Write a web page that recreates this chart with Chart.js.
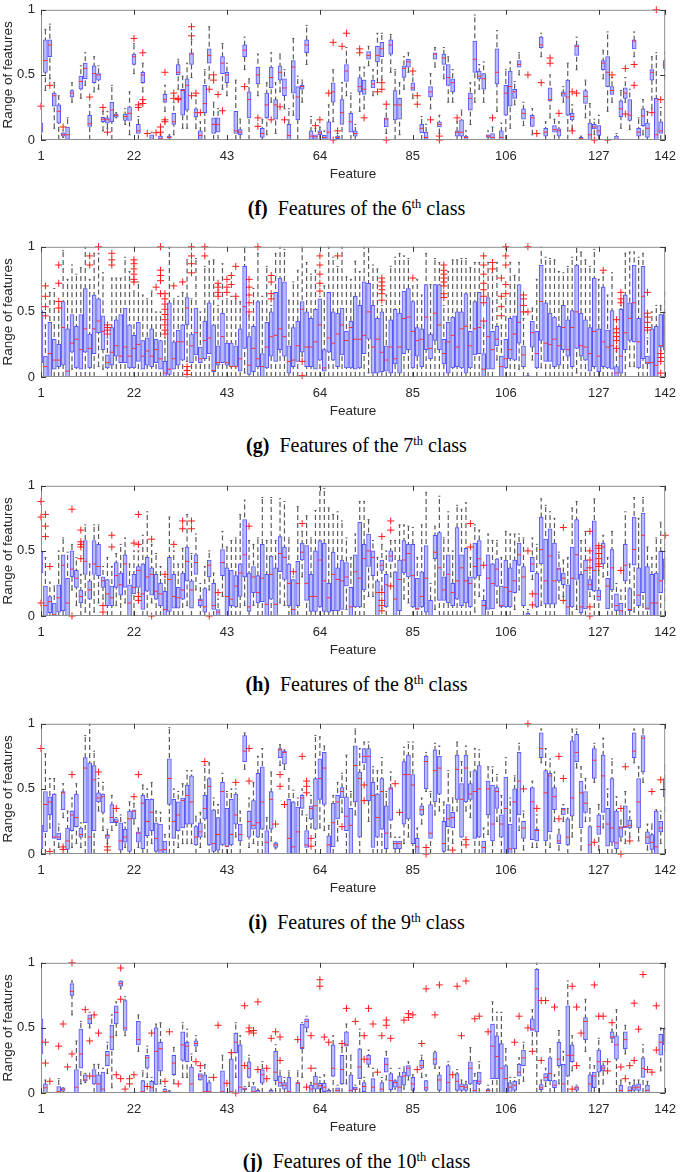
<!DOCTYPE html>
<html>
<head>
<meta charset="utf-8">
<script src="https://cdn.jsdelivr.net/npm/chart.js@4.4.1/dist/chart.umd.min.js"></script>
<style>
  body { margin: 0; background: #fff; width: 685px; height: 1172px; position: relative; overflow: hidden; }
  .panel { position: absolute; left: 0; width: 685px; height: 189px; }
  .cap { position: absolute; left: 0; width: 713px; text-align: center; line-height: 22px;
         font-family: "Liberation Serif", "Times New Roman", serif; font-size: 20px; color: #000; }
  .cap sup { font-size: 12.5px; vertical-align: baseline; position: relative; top: -7px; }
</style>
</head>
<body>
<script>
// axis ticks
const xTickValues = [1, 22, 43, 64, 85, 106, 127, 142]
const yTickValues = [0, 0.5, 1]
const panelLetters = ["f", "g", "h", "i", "j"]
const classNumbers = [6, 7, 8, 9, 10]

// one row per feature: [min, q1, median, q3, max]
const boxes6 = [
  [0,.06,.09,.13,.2],[.38,.52,.61,.77,.85],[.47,.64,.73,.77,.89],[.09,.26,.34,.36,.44],[0,.13,.22,.27,.34],
  [.02,.03,.04,.055,.07],[0,.005,.04,.1,.17],[.29,.33,.36,.38,.44],[0,0,0,0,0],[.32,.39,.45,.49,.57],
  [.42,.47,.55,.59,.67],[0,.105,.125,.19,.27],[.37,.44,.51,.57,.64],[.39,.46,.5,.51,.57],[.07,.14,.16,.175,.22],
  [.09,.13,.155,.17,.22],[0,.14,.23,.29,.42],[.17,.175,.19,.2,.21],[0,0,0,0,0],[.12,.15,.18,.2,.24],
  [.04,.15,.205,.255,.37],[.51,.58,.64,.66,.74],[0,.05,.07,.12,.18],[.37,.44,.5,.52,.59],[0,0,0,0,0],
  [0,0,.005,.04,.06],[0,0,0,0,0],[0,0,.01,.03,.04],[.22,.29,.31,.35,.42],[0,.015,.02,.03,.04],
  [.04,.12,.14,.205,.29],[.39,.5,.52,.58,.62],[.09,.19,.38,.39,.49],[.09,.23,.42,.47,.59],[.48,.58,.66,.67,.77],
  [.09,.18,.21,.24,.34],[0,.005,.035,.07,.14],[0,.21,.28,.42,.54],[.47,.59,.65,.7,.87],[0,.05,.12,.17,.29],
  [0,.06,.12,.17,.24],[.39,.51,.59,.64,.74],[.34,.44,.5,.52,.59],[0,0,0,0,0],[0,.05,.07,.22,.46],
  [0,.04,.06,.08,.16],[.54,.64,.69,.73,.79],[0,.17,.31,.37,.47],[0,0,0,0,0],[.34,.43,.5,.56,.66],
  [0,.02,.05,.09,.16],[.04,.17,.27,.36,.44],[.29,.4,.48,.56,.67],[.05,.16,.27,.31,.44],[.37,.46,.52,.57,.66],
  [.24,.34,.4,.47,.54],[0,0,.035,.12,.24],[.19,.36,.56,.61,.78],[0,.155,.33,.41,.49],[.29,.39,.41,.42,.46],
  [.58,.67,.73,.77,.88],[0,0,.03,.07,.18],[0,.005,.025,.04,.09],[0,.04,.055,.07,.1],[0,.005,.02,.035,.07],
  [0,0,.06,.14,.27],[.14,.29,.37,.44,.54],[0,.01,.02,.03,.05],[0,.12,.21,.31,.44],[.34,.45,.53,.58,.71],
  [0,.06,.14,.205,.36],[0,.03,.05,.07,.12],[.22,.37,.41,.48,.56],[.24,.35,.39,.46,.56],[.57,.62,.65,.68,.72],
  [.34,.4,.43,.46,.54],[.44,.6,.65,.72,.82],[.46,.64,.7,.75,.82],[.05,.1,.16,.17,.24],[.52,.66,.73,.77,.81],
  [0,.155,.27,.38,.54],[.04,.16,.27,.32,.44],[.39,.48,.55,.57,.64],[.52,.56,.6,.62,.67],[.32,.38,.4,.44,.5],
  [0,0,0,0,0],[0,.055,.09,.12,.18],[0,.005,.02,.06,.12],[.24,.33,.37,.41,.51],[.56,.62,.66,.67,.71],
  [.05,.1,.12,.14,.19],[.47,.58,.63,.66,.71],[.29,.42,.48,.58,.64],[.29,.37,.44,.47,.54],[0,.03,.06,.07,.14],
  [0,.03,.06,.155,.23],[0,0,.02,.03,.07],[.12,.23,.32,.36,.44],[.29,.52,.62,.76,.96],[.39,.47,.49,.53,.58],
  [.29,.39,.47,.51,.6],[0,.02,.03,.04,.07],[0,0,.02,.05,.1],[.22,.43,.52,.7,.84],[0,0,.02,.07,.13],
  [0,.19,.36,.42,.54],[.09,.26,.41,.53,.6],[.27,.32,.37,.39,.45],[.5,.56,.58,.61,.67],[.11,.16,.205,.24,.29],
  [0,0,0,0,0],[.04,.105,.17,.19,.24],[0,0,0,0,0],[.64,.71,.73,.79,.82],[0,.03,.06,.09,.14],
  [.17,.3,.31,.4,.5],[0,.06,.08,.11,.16],[0,.03,.07,.085,.14],[.29,.335,.355,.37,.41],[0,.19,.33,.46,.59],
  [.08,.155,.18,.205,.27],[.54,.65,.72,.73,.79],[0,0,.01,.02,.03],[.17,.28,.335,.38,.46],[0,0,.04,.13,.28],
  [.04,.085,.1,.12,.16],[0,.035,.07,.11,.19],[.47,.54,.59,.61,.69],[.22,.41,.52,.64,.83],[.29,.35,.38,.41,.48],
  [0,0,.005,.03,.05],[.09,.18,.24,.3,.38],[.29,.32,.36,.4,.48],[.08,.15,.19,.31,.39],[.64,.7,.76,.77,.83],
  [0,.03,.06,.09,.17],[.04,.11,.185,.24,.31],[0,.02,.09,.13,.22],[.24,.46,.52,.54,.64],[0,0,.04,.32,.67],
  [0,.05,.07,.14,.25],[.47,.55,.58,.61,.67]
]
// outliers: [feature, value]
const out6 = [
  [1,.26],[3,.42],[6,.1],[12,.33],[15,.25],[16,.06],[22,.78],[23,.27],[23,.25],[24,.67],[24,.31],[24,.28],
  [25,.05],[27,.055],[28,.1],[28,.06],[29,.52],[29,.155],[29,.14],[31,.36],[31,.32],[32,.32],[32,.31],
  [35,.87],[35,.8],[35,.34],[36,.36],[37,.21],[39,.39],[40,.5],[40,.46],[41,.35],[42,.225],[47,.41],
  [50,.17],[50,.105],[53,.155],[55,.255],[56,.155],[63,.11],[64,.155],[66,.36],[67,.75],[67,0],[68,.07],
  [69,.72],[70,.82],[73,.7],[73,.67],[74,.17],[77,.37],[78,.44],[78,.39],[79,.275],[79,0],[85,.53],
  [86,.34],[86,.275],[89,.155],[91,.03],[91,0],[95,.17],[103,.17],[111,.5],[113,.05],[114,.44],
  [116,.63],[116,.59],[118,.205],[121,.37],[121,.07],[122,.36],[126,0],[129,0],[130,.5],[133,.55],
  [133,.2],[135,.58],[135,.42],[139,.21],[140,1],[141,.31]
]

const boxes7 = [
  [0,.11,.33,.51,.75],[0,0,.08,.16,.4],[0,0,.18,.42,.65],[0,.06,.13,.29,.68],[0,.08,.13,.25,.5],
  [0,.09,.38,.58,.97],[0,0,.045,.37,.75],[.06,.19,.26,.48,.86],[0,.07,.29,.39,.79],[0,.06,.21,.48,.84],
  [0,.19,.37,.68,1],[0,.07,.22,.33,.75],[0,.18,.37,.63,.95],[.08,.34,.43,.6,.95],[.06,.21,.35,.47,.8],
  [0,.07,.11,.17,.3],[0,.09,.19,.38,.76],[0,.16,.24,.44,.76],[0,.11,.16,.48,.76],[0,.11,.23,.53,.92],
  [0,.07,.16,.4,.81],[0,.07,.22,.32,.66],[0,.12,.25,.42,.73],[0,.06,.16,.28,.63],[0,.09,.2,.3,.6],
  [0,.08,.16,.37,.66],[0,.11,.21,.29,.5],[0,.06,.14,.28,.5],[0,0,.03,.12,.3],[0,.02,.06,.57,1],
  [0,.06,.14,.27,.6],[0,.09,.27,.36,.62],[0,.13,.27,.4,.65],[.12,.4,.53,.61,.9],[0,.11,.24,.33,.6],
  [0,.17,.34,.53,.91],[0,.11,.14,.23,.5],[0,.14,.28,.43,.85],[0,.18,.3,.57,.89],[0,.04,.05,.4,.9],
  [0,.09,.11,.24,.55],[0,.11,.31,.49,.87],[0,.09,.11,.26,.6],[0,.08,.08,.26,.62],[0,.08,.08,.24,.6],
  [0,.045,.14,.37,.58],[.03,.22,.54,.85,1],[0,.02,.09,.31,.47],[0,.04,.22,.39,.68],[0,.08,.14,.58,.95],
  [0,0,.08,.18,.62],[0,.07,.23,.42,.85],[0,.16,.31,.5,.55],[0,.12,.32,.65,.95],[0,.21,.37,.76,1],
  [0,.16,.31,.73,.98],[0,.03,.12,.24,.59],[0,.08,.13,.38,.73],[0,.12,.24,.43,.82],[.16,.19,.52,.58,1],
  [0,.08,.23,.5,.88],[0,.08,.23,.45,.79],[0,.06,.27,.52,.82],[0,.13,.4,.6,.62],[0,.045,.07,.21,.7],
  [0,.19,.3,.65,1],[0,.13,.26,.5,.92],[0,.08,.33,.49,.85],[0,.17,.4,.53,1],[0,.07,.28,.35,.77],
  [0,.07,.38,.43,.75],[0,.06,.29,.62,.89],[0,.07,.29,.55,.81],[0,.18,.32,.73,1],[.03,.29,.5,.72,1],
  [0,.03,.23,.55,.86],[0,.03,.29,.45,.83],[0,.04,.19,.5,.55],[0,.045,.13,.24,.63],[0,.03,.23,.44,.85],
  [0,.1,.14,.52,.92],[0,.03,.23,.49,.95],[0,.18,.45,.66,.93],[0,.21,.46,.68,.91],[0,.07,.35,.58,.7],
  [0,.16,.28,.38,.75],[0,.08,.29,.37,.63],[0,.21,.46,.71,.95],[0,.14,.22,.33,.71],[0,.28,.49,.71,.91],
  [0,.21,.4,.71,.88],[0,.1,.18,.29,.55],[0,.03,.27,.42,.81],[0,.07,.32,.46,.9],[0,.08,.23,.5,.9],
  [0,.07,.37,.5,.91],[0,.03,.39,.64,.91],[0,.07,.24,.35,.84],[0,.17,.37,.58,.88],[0,.18,.38,.65,.88],
  [0,0,.06,.18,.4],[0,.06,.31,.61,.88],[0,.06,.21,.35,.8],[.13,.24,.29,.39,.88],[0,0,.08,.16,.4],
  [0,.07,.14,.29,.6],[0,.14,.21,.45,.88],[0,.13,.33,.47,.78],[.06,.26,.42,.71,.88],[0,.08,.17,.24,.45],
  [0,0,0,.01,.03],[.13,.23,.34,.43,.53],[0,.07,.18,.35,.75],[.07,.28,.58,.86,1],[0,.12,.26,.57,.92],
  [0,.12,.25,.49,.91],[0,.08,.29,.46,.9],[0,.09,.24,.39,.81],[0,.21,.38,.55,.8],[0,.16,.21,.44,.85],
  [0,.08,.38,.51,.92],[.03,.22,.5,.86,1],[0,.16,.24,.49,.96],[0,.13,.23,.44,.9],[0,.045,.18,.38,.85],
  [0,.08,.35,.76,.98],[0,.04,.16,.37,.75],[0,.08,.27,.69,.8],[0,.07,.23,.36,.63],[0,.06,.24,.51,.8],
  [0,0,.03,.08,.2],[0,.03,.16,.52,.55],[0,.21,.34,.63,.95],[.08,.28,.45,.57,.96],[.08,.27,.57,.86,.96],
  [0,.07,.27,.45,.92],[0,.14,.62,.85,.95],[0,.1,.11,.16,.3],[0,0,.11,.37,.5],[0,0,.09,.39,.55],
  [.2,.23,.24,.48,.55],[0,.21,.36,.5,.65]
]
const out7 = [
  [2,.7],[2,.62],[2,.54],[2,.47],[5,.86],[5,.72],[5,.58],[5,.53],[12,.93],[12,.86],[14,1],
  [16,.4],[16,.38],[16,.36],[16,.33],[17,.95],[17,.9],[17,.86],
  [22,.9],[22,.87],[22,.83],[22,.79],[22,.75],[22,.73],[27,.69],
  [28,1],[28,.82],[28,.78],[28,.74],[28,.64],
  [29,.64],[29,.6],[29,.56],[29,.52],[29,.48],[29,.44],[29,.4],[29,.36],[29,.33],
  [31,.7],[33,.73],[34,.08],[34,.05],[34,.02],[35,1],[35,.93],[35,.87],[35,.8],[38,1],[38,.93],
  [41,.72],[41,.69],[41,.65],[41,.62],[43,.75],[43,.69],[43,.65],[44,.78],[44,.71],[45,.85],[45,.62],
  [48,.75],[48,.69],[48,.63],[48,.57],[48,.5],[50,1],[53,.78],[53,.73],[53,.64],[53,.6],
  [60,.12],[60,.01],[64,.93],[64,.86],[64,.79],[64,.72],[64,.66],[68,.93],
  [78,.76],[78,.73],[78,.7],[78,.67],[78,.64],[78,.59],[85,.76],
  [92,.86],[92,.82],[92,.79],[92,.76],[92,.73],[92,.7],[92,.64],[92,.61],
  [101,.93],[101,.86],[101,.79],[101,.72],[101,.67],[101,.62],[101,.57],[101,.43],
  [103,.88],[103,.83],[105,.76],[105,.62],[105,.54],[105,.47],
  [106,1],[106,.93],[106,.86],[106,.71],[106,.64],[110,.63],[110,.6],[110,.55],[110,.5],
  [111,1],[111,.5],[128,.82],[131,.44],[131,.37],[131,.34],[131,.31],[131,.28],[131,.22],
  [132,.65],[132,.6],[132,.57],[138,.65],[138,.49],[138,.46],[138,.42],[138,.38],[138,.36],
  [141,.18],[141,.15],[141,.12],[141,.03]
]

const boxes8 = [
  [.2,.33,.4,.49,.6],[0,0,.08,.23,.45],[0,.025,.11,.15,.26],[0,0,.01,.1,.23],[0,.03,.14,.24,.5],
  [0,.04,.39,.47,.6],[0,0,.1,.29,.49],[.2,.3,.36,.5,.55],[.08,.22,.29,.35,.45],[0,.1,.15,.2,.32],
  [.03,.32,.42,.58,.7],[0,.13,.2,.27,.4],[.03,.32,.4,.58,.7],[.1,.31,.38,.55,.7],[.13,.22,.27,.3,.38],
  [0,.08,.17,.28,.45],[0,.08,.14,.23,.38],[.08,.22,.31,.41,.48],[0,.16,.24,.33,.55],[.1,.22,.4,.47,.6],
  [0,0,.1,.24,.4],[0,.17,.22,.32,.5],[.18,.22,.35,.38,.5],[0,.05,.17,.4,.62],[0,.19,.3,.45,.8],
  [.1,.16,.32,.37,.55],[0,.13,.19,.32,.48],[0,.08,.17,.25,.38],[0,0,.05,.19,.3],[0,.035,.28,.45,.76],
  [0,.06,.15,.32,.5],[0,.06,.14,.22,.4],[0,.13,.2,.33,.52],[.08,.27,.42,.53,.78],[0,.06,.2,.27,.48],
  [.2,.32,.41,.47,.63],[0,.08,.12,.13,.25],[0,.03,.07,.21,.38],[.2,.3,.39,.43,.5],[0,.05,.08,.25,.33],
  [0,0,.03,.05,.13],[.15,.31,.41,.51,.65],[0,0,.15,.37,.53],[0,.08,.13,.35,.58],[0,.07,.23,.31,.6],
  [0,.15,.33,.4,.78],[.08,.3,.47,.74,.89],[0,.035,.07,.33,.58],[.08,.18,.3,.38,.55],[0,.1,.18,.31,.6],
  [0,.11,.29,.55,.91],[0,0,.09,.32,.58],[0,.13,.32,.46,.91],[0,0,.09,.37,.58],[.1,.34,.48,.61,.9],
  [.08,.28,.45,.53,.88],[0,.08,.25,.4,.6],[0,0,.05,.28,.3],[0,.08,.25,.42,.84],[.3,.43,.49,.56,.65],
  [0,.12,.25,.54,.77],[0,.035,.15,.32,.6],[0,.035,.15,.5,.81],[0,.07,.43,.58,1],[0,.035,.27,.56,.98],
  [0,.03,.14,.25,.83],[0,.04,.32,.49,.78],[0,.04,.28,.37,.8],[0,.05,.27,.43,.73],[.05,.23,.3,.41,.6],
  [0,0,.07,.22,.45],[0,.07,.34,.47,.63],[0,.07,.29,.72,.88],[0,.2,.44,.55,.88],[.15,.38,.5,.63,.74],
  [.15,.31,.45,.5,.58],[0,0,.18,.27,.45],[.2,.35,.39,.43,.55],[0,.07,.24,.32,.5],[.3,.42,.46,.5,.58],
  [0,0,.13,.34,.58],[0,.04,.28,.43,.7],[.13,.33,.43,.58,.7],[.1,.3,.48,.55,.69],[0,.07,.31,.55,.68],
  [0,.05,.055,.29,.45],[0,.07,.15,.34,.7],[0,.03,.29,.54,.95],[0,0,0,.12,.25],[.05,.44,.49,.62,.69],
  [0,.12,.37,.64,.92],[0,.12,.2,.3,.6],[0,.1,.32,.47,.8],[0,.08,.18,.25,.5],[0,.13,.27,.68,.85],
  [0,.08,.37,.47,.82],[0,.1,.27,.52,.87],[0,.07,.25,.3,.45],[.03,.29,.38,.56,.7],[.15,.31,.44,.58,.66],
  [0,0,.08,.12,.2],[0,.05,.29,.47,.63],[0,.055,.25,.4,.58],[.1,.23,.36,.44,.58],[0,.07,.08,.23,.45],
  [0,.07,.22,.43,.65],[0,.07,.19,.37,.63],[.05,.18,.27,.43,.63],[.2,.39,.47,.56,.63],[0,.08,.3,.38,.6],
  [0,0,0,.02,.05],[.28,.34,.4,.45,.6],[0,.07,.17,.33,.55],[.08,.4,.51,.76,.9],[0,.09,.27,.59,.85],
  [0,.09,.46,.67,.8],[0,.09,.27,.56,.75],[.13,.27,.36,.37,.49],[.15,.24,.29,.33,.43],[0,0,.07,.24,.45],
  [0,.07,.29,.53,.83],[.05,.28,.47,.74,.88],[0,.025,.07,.32,.58],[0,.055,.35,.43,.65],[.15,.2,.24,.28,.33],
  [0,.19,.35,.73,.9],[0,.12,.15,.2,.35],[.3,.4,.53,.56,.62],[0,.055,.23,.29,.45],[0,.2,.37,.51,.65],
  [0,.04,.08,.17,.25],[0,0,.04,.1,.2],[0,.27,.39,.55,.8],[0,.04,.05,.21,.4],[.03,.39,.51,.76,.91],
  [0,.08,.16,.37,.75],[0,.18,.62,.79,.91],[0,.05,.06,.38,.53],[0,0,.1,.32,.45],[0,0,.1,.33,.6],
  [0,.18,.27,.5,.72],[.12,.28,.38,.44,.55]
]
const out8 = [
  [1,.88],[1,.76],[1,.1],[2,.78],[2,.69],[2,.61],[3,.38],[8,.82],[8,0],
  [10,.66],[10,.57],[10,.55],[10,.53],[10,.44],[15,.08],[15,.03],[17,.62],[17,.53],[22,.56],
  [23,.78],[23,.55],[23,.15],[23,.12],[26,.59],[26,0],[29,.32],[31,.55],[33,.73],[33,.67],
  [35,.73],[35,.67],[39,0],[41,.18],[48,.69],[58,.34],[60,.71],
  [78,.61],[78,.18],[78,.12],[78,.08],[78,.04],[80,.73],[80,.66],[80,.23],[98,.71],[98,.53],
  [101,.39],[111,.5],[112,.17],[112,.085],[119,.68],[119,.12],
  [125,.65],[125,.5],[125,.43],[125,.37],[125,.07],[125,0],
  [127,.54],[127,.52],[127,.48],[127,.44],[127,.4],[127,.38],[132,.35],[142,.62]
]

const boxes9 = [
  [0,.04,.13,.22,.35],[0,.17,.38,.48,.77],[.2,.3,.4,.44,.58],[0,.12,.13,.46,.58],[.05,.11,.13,.16,.23],
  [.28,.34,.47,.48,.54],[0,.035,.1,.2,.33],[.05,.18,.3,.33,.43],[.08,.21,.28,.46,.54],[.05,.13,.15,.2,.24],
  [0,.24,.66,.74,.91],[0,0,.13,.7,1],[0,.18,.57,.68,.79],[.33,.4,.43,.47,.58],[.18,.32,.44,.46,.55],
  [.08,.12,.14,.15,.19],[.18,.24,.28,.38,.45],[.22,.24,.25,.27,.28],[0,.03,.1,.24,.3],[.05,.09,.13,.19,.24],
  [0,.02,.27,.33,.4],[.23,.27,.33,.34,.39],[.05,.09,.16,.17,.2],[0,.04,.39,.45,.53],[0,.14,.25,.42,.5],
  [.08,.18,.32,.42,.55],[0,.02,.12,.24,.33],[0,0,.03,.23,.32],[0,0,.035,.1,.15],[0,.38,.58,.73,.97],
  [0,.12,.25,.42,.5],[.05,.18,.3,.4,.48],[.08,.2,.41,.43,.54],[.08,.23,.45,.53,.64],[.08,.23,.4,.6,.64],
  [0,.07,.13,.21,.29],[.05,.13,.17,.24,.32],[.13,.27,.35,.45,.68],[0,.07,.52,.58,.7],[0,.02,.08,.34,.43],
  [0,.03,.15,.28,.38],[0,.07,.48,.55,.62],[0,.055,.06,.35,.48],[0,.07,.15,.42,.5],[.13,.23,.3,.46,.5],
  [0,.1,.15,.23,.33],[.65,.71,.79,.91,.93],[.05,.13,.25,.33,.43],[.08,.19,.22,.41,.55],[0,.13,.24,.62,.75],
  [0,.19,.4,.67,.81],[0,0,.09,.18,.28],[.1,.19,.42,.48,.63],[.04,.05,.07,.085,.09],[.68,.74,.8,.81,.84],
  [.65,.69,.78,.79,.8],[0,0,.12,.42,.58],[0,0,.055,.4,.49],[0,0,.17,.36,.43],[.3,.35,.43,.45,.5],
  [0,.05,.07,.18,.3],[.2,.27,.35,.37,.45],[0,.19,.37,.58,.91],[.2,.42,.58,.73,.9],[.18,.38,.66,.78,.83],
  [0,0,.07,.14,.22],[0,.055,.24,.39,.45],[.1,.27,.4,.45,.55],[.32,.43,.48,.51,.62],[0,.18,.29,.44,.76],
  [0,0,.22,.35,.48],[.3,.4,.68,.83,.96],[0,.13,.58,.63,.81],[.65,.7,.75,.81,.86],[.25,.41,.75,.81,.86],
  [0,.05,.45,.55,.67],[0,.13,.28,.46,.64],[0,.19,.48,.58,.74],[0,.04,.16,.37,.48],[.13,.26,.5,.51,.63],
  [0,.04,.08,.1,.13],[0,.04,.08,.1,.13],[.08,.23,.61,.71,.82],[.13,.27,.61,.76,.86],[0,.08,.53,.61,.86],
  [0,0,.055,.12,.2],[.23,.3,.34,.37,.43],[.48,.5,.71,.75,.78],[0,.12,.16,.38,.48],[.3,.4,.64,.8,.85],
  [.33,.46,.66,.75,.83],[0,.02,.08,.25,.4],[.03,.21,.27,.38,.64],[.08,.2,.28,.32,.43],[.33,.42,.65,.76,.86],
  [0,.13,.42,.54,.71],[.33,.4,.66,.76,.83],[.28,.42,.46,.54,.63],[0,.12,.48,.64,.81],[0,.13,.5,.68,.8],
  [0,0,.05,.1,.2],[.15,.3,.5,.56,.67],[0,.1,.23,.53,.67],[.25,.35,.48,.51,.61],[0,.13,.23,.3,.45],
  [0,0,.35,.59,.74],[0,0,.04,.23,.43],[0,.04,.4,.5,.6],[.18,.3,.56,.78,.85],[.03,.12,.2,.25,.33],
  [0,0,0,0,0],[.05,.11,.4,.51,.56],[.05,.1,.18,.19,.3],[.7,.74,.81,.93,.96],[0,.1,.47,.64,.81],
  [.05,.17,.6,.62,.73],[.25,.34,.44,.51,.63],[.03,.08,.1,.15,.19],[.25,.3,.34,.35,.38],[0,.07,.13,.27,.35],
  [.13,.29,.43,.87,.96],[.66,.71,.78,.92,.96],[.03,.2,.47,.56,.67],[.25,.32,.39,.48,.58],[0,0,.07,.21,.35],
  [.55,.58,.72,.81,.85],[.03,.15,.21,.3,.38],[.2,.32,.6,.76,.89],[0,.06,.23,.35,.5],[0,.09,.2,.58,.73],
  [0,.04,.085,.33,.44],[.1,.13,.2,.21,.26],[.08,.2,.21,.37,.48],[.13,.2,.22,.26,.33],[.7,.74,.79,.93,.96],
  [.1,.2,.4,.58,.67],[.55,.63,.89,.91,.96],[.03,.08,.13,.17,.23],[0,.035,.09,.15,.23],[0,0,.055,.33,.34],
  [.08,.17,.2,.25,.33],[.33,.44,.5,.58,.68]
]
const out9 = [
  [1,.81],[3,.02],[6,.055],[6,.035],[8,.61],[14,.63],[16,.055],[16,.03],[18,.35],[22,.44],[23,.61],
  [38,.71],[45,.55],[48,.81],[48,.56],[54,.23],[55,.61],[55,.52],[56,.38],[60,.75],[61,.56],[61,.52],
  [61,.47],[62,.12],[62,.06],[69,.21],[74,.53],[74,.41],[81,.54],[82,.32],[88,.05],[88,0],[94,.03],
  [97,.11],[97,.07],[110,.5],[111,1],[113,.35],[118,.75],[118,.27],[119,.58],[126,.09],[132,.35],
  [132,0],[133,.67],[134,.1],[139,.48],[141,.57]
]

const boxes10 = [
  [.25,.3,.4,.57,.6],[0,0,.04,.07,.1],[0,0,0,0,0],[0,0,0,0,0],[0,0,.01,.05,.11],
  [0,.015,.03,.04,.04],[0,0,0,0,0],[.6,.75,.78,.84,.86],[0,0,.045,.18,.4],[.07,.19,.3,.49,.55],
  [.08,.09,.1,.14,.15],[.5,.53,.57,.6,.62],[0,.07,.13,.18,.22],[0,0,.07,.14,.22],[0,0,.03,.16,.19],
  [.15,.21,.29,.32,.39],[.04,.33,.43,.52,.6],[.44,.53,.62,.67,.7],[.8,.82,.84,.86,.86],[.44,.48,.5,.71,.74],
  [0,0,0,0,0],[0,0,0,0,0],[.32,.37,.41,.55,.6],[0,0,.01,.095,.17],[.12,.19,.27,.29,.36],
  [0,0,.04,.09,.12],[0,.065,.32,.5,.53],[.07,.17,.34,.39,.54],[0,0,.01,.03,.05],[0,0,.005,.01,.02],
  [.07,.14,.23,.29,.35],[0,0,0,0,0],[.12,.25,.37,.47,.54],[.12,.24,.36,.39,.49],[0,0,.07,.2,.3],
  [.32,.36,.38,.4,.44],[.1,.1,.13,.15,.17],[0,0,.01,.14,.22],[0,0,.01,.08,.12],[0,0,0,0,0],
  [0,0,0,0,0],[0,0,.01,.17,.29],[0,0,0,0,0],[0,0,.01,.26,.3],[.12,.31,.39,.46,.54],
  [0,0,.045,.37,.44],[0,.025,.03,.04,.05],[.05,.12,.19,.24,.29],[0,0,.01,.05,.08],[0,0,.005,.02,.03],
  [0,.075,.14,.18,.24],[0,0,0,0,0],[0,0,.005,.02,.03],[0,.095,.16,.32,.37],[0,.05,.08,.13,.17],
  [0,.03,.06,.08,.12],[0,0,.01,.12,.17],[0,0,0,0,0],[0,0,.075,.08,.17],[.12,.34,.35,.53,.54],
  [.47,.5,.55,.57,.59],[0,0,.03,.06,.08],[0,.03,.07,.13,.19],[0,.03,.055,.075,.12],[0,.01,.045,.075,.14],
  [0,0,.005,.02,.03],[0,.13,.19,.37,.44],[0,0,.02,.04,.06],[0,.07,.18,.29,.35],[.07,.36,.37,.47,.53],
  [0,0,.02,.14,.29],[0,.025,.03,.045,.06],[0,.11,.2,.34,.49],[0,.01,.05,.08,.12],[.2,.22,.26,.29,.33],
  [0,0,.045,.11,.19],[0,0,0,0,0],[0,0,.03,.08,.12],[.1,.16,.22,.27,.32],[0,.025,.095,.15,.19],
  [.03,.045,.08,.095,.1],[0,0,.045,.13,.19],[.03,.06,.13,.16,.2],[.1,.13,.19,.21,.24],[0,.02,.07,.12,.14],
  [0,0,0,0,0],[.12,.19,.21,.25,.29],[0,.02,.04,.095,.14],[0,0,0,0,0],[.19,.22,.26,.31,.32],
  [0,.02,.1,.14,.2],[0,0,0,0,0],[0,0,.08,.21,.24],[0,0,0,0,0],[0,.02,.09,.15,.18],
  [0,.02,.05,.07,.1],[0,.02,.045,.065,.09],[0,.07,.19,.24,.35],[0,0,.02,.1,.15],[0,.07,.09,.16,.24],
  [0,0,0,0,0],[0,0,.02,.03,.06],[0,.11,.36,.53,.7],[0,.11,.28,.44,.62],[0,0,.19,.38,.62],
  [0,0,.11,.21,.34],[0,0,.045,.08,.12],[0,.02,.06,.09,.12],[.07,.13,.16,.22,.27],[.09,.21,.27,.33,.39],
  [0,0,0,0,0],[.37,.48,.49,.57,.64],[0,.47,.8,.95,1],[0,.025,.04,.065,.1],[.05,.09,.12,.15,.19],
  [0,.095,.15,.27,.34],[0,.04,.06,.095,.14],[.07,.21,.26,.39,.48],[0,0,.07,.22,.32],[0,.13,.29,.67,.86],
  [.17,.24,.29,.37,.44],[0,.02,.04,.05,.06],[0,0,0,0,0],[.32,.41,.55,.58,.72],[0,0,.07,.14,.27],
  [0,.04,.13,.16,.21],[0,.16,.24,.33,.42],[.07,.17,.19,.21,.24],[0,0,0,0,0],[.39,.42,.43,.47,.49],
  [0,.26,.37,.44,.64],[0,0,.02,.06,.1],[.3,.34,.41,.47,.52],[0,0,.02,.05,.08],[0,.02,.04,.06,.1],
  [0,.02,.045,.07,.1],[0,.12,.19,.27,.37],[0,0,.02,.06,.09],[0,0,0,0,0],[0,0,0,0,0],
  [.17,.29,.39,.45,.5],[.32,.37,.44,.49,.5]
]
const out10 = [
  [2,.39],[2,.23],[3,.09],[5,.36],[6,.53],[7,.2],[8,1],[8,.3],[11,.64],[12,.4],[12,.13],[13,.6],
  [14,.46],[18,.14],[19,.96],[19,.72],[19,.11],[20,.03],[21,.11],[21,.07],[22,.14],[25,.05],[26,.46],
  [29,.09],[30,.47],[32,.07],[36,.24],[37,.21],[40,.12],[41,.52],[43,.075],[44,.31],[45,0],[47,.67],
  [47,.21],[48,.5],[48,.47],[49,.48],[49,.46],[50,.7],[50,.18],[52,.19],[52,.11],[53,.42],[54,.47],
  [55,.43],[55,.25],[59,.41],[61,.045],[62,.44],[62,.19],[64,.87],[64,.82],[65,.43],[66,.39],[69,.38],
  [70,.65],[72,.55],[74,.44],[74,.26],[75,.65],[76,.53],[77,.16],[78,.44],[79,.56],[79,.52],[80,.42],
  [83,.56],[84,.61],[84,.58],[85,.6],[86,.18],[87,.38],[88,.8],[90,.6],[91,.83],[94,.14],[95,.82],
  [96,.44],[97,.86],[99,.57],[100,.59],[102,.47],[108,.39],[109,.59],[111,.5],[112,.32],[114,.71],
  [114,.25],[115,.71],[117,.66],[121,.82],[121,.03],[122,.66],[122,.21],[123,.46],[126,.83],[127,.59],
  [128,.59],[129,.24],[129,.17],[130,.54],[132,.2],[133,.11],[134,.21],[135,.69],[135,.25],[136,.49],
  [137,.91],[138,.18],[139,.16],[140,.67],[140,.33]
]

const allBoxes = [boxes6, boxes7, boxes8, boxes9, boxes10]
const allOutliers = [out6, out7, out8, out9, out10]

// page layout: top of each plot area
const plotTops = [6, 243, 482, 720, 959]

Chart.defaults.font.family = "'Liberation Sans', Arial, sans-serif"
Chart.defaults.color = "#262626"

// box frame and inward tick marks, matlab style
const frame = {
    id: "frame",
    afterDatasetsDraw(chart) {
        const ctx = chart.ctx
        const a = chart.chartArea
        const sx = chart.scales.x
        const sy = chart.scales.y
        ctx.save()
        ctx.lineWidth = 1
        ctx.strokeStyle = "#8e8e8e"
        ctx.strokeRect(a.left + 0.5, a.top + 0.5, a.right - a.left - 1, a.bottom - a.top - 1)
        ctx.strokeStyle = "#3a3a3a"
        ctx.beginPath()
        xTickValues.forEach(v => {
            const x = Math.round(sx.getPixelForValue(v)) + 0.5
            ctx.moveTo(x, a.bottom); ctx.lineTo(x, a.bottom - 5)
            ctx.moveTo(x, a.top); ctx.lineTo(x, a.top + 5)
        })
        yTickValues.forEach(v => {
            const y = Math.round(sy.getPixelForValue(v)) + 0.5
            ctx.moveTo(a.left, y); ctx.lineTo(a.left + 5, y)
            ctx.moveTo(a.right, y); ctx.lineTo(a.right - 5, y)
        })
        ctx.stroke()
        ctx.restore()
    }
}

function boxChart(canvas, boxes, outliers) {
    const whiskers = [], caps = [], bodies = [], medians = []
    boxes.forEach((b, i) => {
        const x = i + 1
        whiskers.push({x: x, y: b[0]}, {x: x, y: b[4]}, {x: x, y: null})
        caps.push({x: x, y: b[0]}, {x: x, y: b[4]})
        bodies.push({x: x, y: [b[1], b[3]]})
        medians.push({x: x, y: b[2]})
    })
    const points = outliers.map(o => ({x: o[0], y: o[1]}))

    return new Chart(canvas, {
        type: "bar",
        data: {
            datasets: [
                { type: "scatter", data: points, pointStyle: "cross", pointRadius: 3.5,
                  borderColor: "#ff1a1a", borderWidth: 1, order: 0, clip: false },
                { type: "scatter", data: medians, pointStyle: "line", pointRadius: 2,
                  borderColor: "#ff3030", borderWidth: 1, order: 1 },
                { type: "bar", data: bodies, backgroundColor: "#bcbcf6", borderColor: "#5555ff",
                  borderWidth: 1, borderSkipped: false, barThickness: 4, minBarLength: 1, order: 2 },
                { type: "scatter", data: caps, pointStyle: "line", pointRadius: 1,
                  borderColor: "#555", borderWidth: 1, order: 3 },
                { type: "line", data: whiskers, borderColor: "#5a5a5a", borderWidth: 1.2,
                  borderDash: [5, 3], pointRadius: 0, spanGaps: false, order: 4 }
            ]
        },
        options: {
            responsive: true,
            maintainAspectRatio: false,
            animation: false,
            events: [],
            layout: { padding: { top: 10, right: 13, left: 0, bottom: 0 } },
            plugins: { legend: { display: false }, tooltip: { enabled: false } },
            scales: {
                x: {
                    type: "linear", min: 1, max: 142, offset: false,
                    grid: { display: false, drawTicks: false }, border: { display: false },
                    afterBuildTicks: s => { s.ticks = xTickValues.map(v => ({value: v})) },
                    afterFit: s => { s.height = 45 },
                    ticks: { autoSkip: false, maxRotation: 0, padding: 9, font: { size: 13 },
                             callback: v => String(v) },
                    title: { display: true, text: "Feature", font: { size: 13.5 },
                             padding: { top: 0, bottom: 3 } }
                },
                y: {
                    min: 0, max: 1,
                    grid: { display: false, drawTicks: false }, border: { display: false },
                    afterBuildTicks: s => { s.ticks = yTickValues.map(v => ({value: v})) },
                    afterFit: s => { s.width = 41 },
                    ticks: { padding: 6, font: { size: 13 }, callback: v => String(v) },
                    title: { display: true, text: "Range of features", font: { size: 13.5 }, padding: 0 }
                }
            }
        },
        plugins: [frame]
    })
}

allBoxes.forEach((boxes, k) => {
    const wrap = document.createElement("div")
    wrap.className = "panel"
    wrap.style.top = (plotTops[k] - 10) + "px"
    const canvas = document.createElement("canvas")
    wrap.appendChild(canvas)
    document.body.appendChild(wrap)
    boxChart(canvas, boxes, allOutliers[k])

    const cap = document.createElement("div")
    cap.className = "cap"
    cap.style.top = (plotTops[k] + 191) + "px"
    cap.innerHTML = "<b>(" + panelLetters[k] + ")</b>&nbsp;&nbsp;Features of the " +
        classNumbers[k] + "<sup>th</sup> class"
    document.body.appendChild(cap)
})
</script>
</body>
</html>
